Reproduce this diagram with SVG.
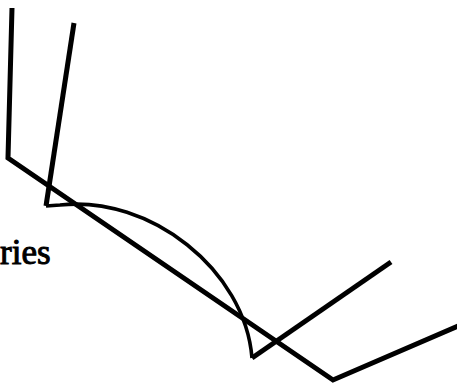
<svg xmlns="http://www.w3.org/2000/svg" width="457" height="387" viewBox="0 0 457 387">
<style>
.thick{fill:none;stroke:#000;stroke-width:5;stroke-linejoin:miter;stroke-linecap:butt}
.thin{fill:none;stroke:#000;stroke-width:3.6;stroke-linejoin:miter}
.lbl{font-family:"Liberation Serif","Times New Roman",serif;font-size:35px;fill:#000;stroke:#000;stroke-width:1}
</style>
<rect width="457" height="387" fill="#fff"/>
<g id="connectors">
<polyline id="boundary1" class="thick" points="12,8 8,158 333,380 458,326"/>
<polyline id="boundary2" class="thick" points="74,23 46,206"/>
<path id="arc" class="thin" d="M46,206 L60,205 C150,195 245,270 252,358"/>
<polyline id="boundary2b" class="thick" points="252,358 391,262"/>
</g>
<g id="label">
<text class="lbl" x="0" y="264">ries</text>
</g>
</svg>
